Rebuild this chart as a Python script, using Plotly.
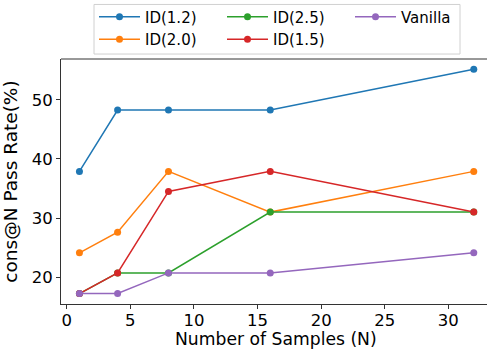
import plotly.graph_objects as go

# ── Data ──────────────────────────────────────────────────────────────────────
samples = [1, 4, 8, 16, 32]
id_1_2 = [37.9, 48.3, 48.3, 48.3, 55.2]
id_2_0 = [24.1, 27.6, 37.9, 31.0, 37.9]
id_2_5 = [17.2, 20.7, 20.7, 31.0, 31.0]
id_1_5 = [17.2, 20.7, 34.5, 37.9, 31.0]
vanilla = [17.2, 17.2, 20.7, 20.7, 24.1]

x_ticks = [0, 5, 10, 15, 20, 25, 30]
y_ticks = [20, 30, 40, 50]

# ── Styling ───────────────────────────────────────────────────────────────────
FONT = "DejaVu Sans"
W, H = 487, 349
L, R, T, B = 61, 0, 57, 45

series = [
    ("ID(1.2)", id_1_2, "#1f77b4", "legend"),
    ("ID(2.0)", id_2_0, "#ff7f0e", "legend"),
    ("ID(2.5)", id_2_5, "#2ca02c", "legend2"),
    ("ID(1.5)", id_1_5, "#d62728", "legend2"),
    ("Vanilla", vanilla, "#9467bd", "legend3"),
]

fig = go.Figure()
for name, vals, colour, leg in series:
    fig.add_trace(go.Scatter(
        x=samples,
        y=vals,
        name=name,
        mode="lines+markers",
        line=dict(color=colour, width=1.5),
        marker=dict(size=7, color=colour),
        legend=leg,
    ))


def px_x(p):
    return (p - L) / (W - L - R)


def px_y(p):
    return (H - B - p) / (H - T - B)


leg_common = dict(
    font=dict(family=FONT, size=15, color="black"),
    bgcolor="rgba(0,0,0,0)",
    borderwidth=0,
    xanchor="left",
    yanchor="top",
    tracegroupgap=0,
    itemwidth=41,
)

fig.update_layout(
    width=W,
    height=H,
    margin=dict(l=L, r=R, t=T, b=B),
    plot_bgcolor="white",
    paper_bgcolor="white",
    font=dict(family=FONT, size=16, color="black"),
    showlegend=True,
    legend=dict(x=px_x(94), y=px_y(-2), **leg_common),
    legend2=dict(x=px_x(222), y=px_y(-2), **leg_common),
    legend3=dict(x=px_x(350), y=px_y(-2), **leg_common),
)

# legend frame
fig.add_shape(
    type="rect",
    xref="paper", yref="paper",
    x0=px_x(94), x1=px_x(460), y0=px_y(52), y1=px_y(2),
    line=dict(color="#d0d0d0", width=1),
    fillcolor="rgba(255,255,255,0)",
)
# top spine (right spine is cut off in the original)
fig.add_shape(
    type="line",
    xref="paper", yref="paper",
    x0=0, x1=1, y0=1, y1=1,
    line=dict(color="#333333", width=1),
)

# x-axis title as annotation so it sits just under the tick labels
fig.add_annotation(
    text="Number of Samples (N)",
    xref="paper", yref="paper",
    x=px_x(276), y=px_y(339),
    xanchor="center", yanchor="middle",
    showarrow=False,
    font=dict(family=FONT, size=17.2, color="black"),
)

fig.update_xaxes(
    range=[-0.45, 33.04],
    tickvals=x_ticks,
    showgrid=False,
    zeroline=False,
    showline=True,
    linecolor="#333333",
    linewidth=1,
    ticks="outside",
    ticklen=4,
    tickcolor="#333333",
    tickfont=dict(family=FONT, size=16.5),
    ticklabelstandoff=-3,
    automargin=False,
)
fig.update_yaxes(
    range=[15.43, 56.94],
    tickvals=y_ticks,
    showgrid=False,
    zeroline=False,
    showline=True,
    linecolor="#333333",
    linewidth=1,
    ticks="outside",
    ticklen=4,
    tickcolor="#333333",
    tickfont=dict(family=FONT, size=16.5),
    automargin=False,
    title=dict(text="cons@N Pass Rate(%)", font=dict(family=FONT, size=18.5)),
)

fig.write_html(
    "out.html",
    config={"displayModeBar": False},
    post_script="document.body.style.margin='0';",
)
